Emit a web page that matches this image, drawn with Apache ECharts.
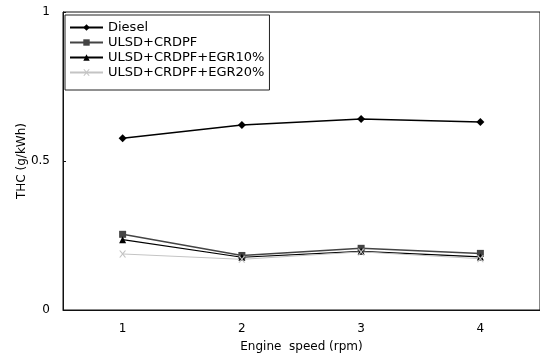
<!DOCTYPE html>
<html>
<head>
<meta charset="utf-8">
<script src="https://cdn.jsdelivr.net/npm/echarts@6/dist/echarts.min.js"></script>
<style>
  html, body { margin: 0; padding: 0; background: #fff; }
  #chart { width: 540px; height: 358px; }
</style>
</head>
<body>
<div id="chart"></div>
<script>
// 数据：发动机转速（档位）与 THC 排放
const categories = ['1', '2', '3', '4'];
const diesel = [0.576, 0.621, 0.641, 0.631];
const ulsdCrdpf = [0.254, 0.183, 0.207, 0.190];
const egr10 = [0.236, 0.177, 0.197, 0.178];
const egr20 = [0.188, 0.170, 0.195, 0.172];
const seriesNames = ['Diesel', 'ULSD+CRDPF', 'ULSD+CRDPF+EGR10%', 'ULSD+CRDPF+EGR20%'];

const chart = echarts.init(document.getElementById('chart'));
const font = 'DejaVu Sans, Liberation Sans, sans-serif';

function line(name, data, color, symbol, size, width) {
  return {
    name: name,
    type: 'line',
    data: data,
    symbol: symbol,
    symbolSize: size,
    lineStyle: { color: color, width: width },
    itemStyle: { color: color },
    animation: false
  };
}

chart.setOption({
  animation: false,
  textStyle: { fontFamily: font, color: '#000' },
  grid: {
    left: 63, right: -3, top: 12, bottom: 47,
    show: true, borderColor: '#111', borderWidth: 1
  },
  legend: {
    orient: 'vertical',
    left: 65, top: 15,
    data: seriesNames,
    itemWidth: 33, itemHeight: 8, itemGap: 2,
    padding: [6, 5, 11, 4],
    borderColor: '#222', borderWidth: 1,
    backgroundColor: '#fff',
    textStyle: { fontSize: 13, lineHeight: 13, color: '#000', fontFamily: font }
  },
  xAxis: {
    type: 'category',
    data: categories,
    boundaryGap: true,
    name: 'Engine  speed (rpm)',
    nameLocation: 'middle',
    nameGap: 31,
    nameMoveOverlap: false,
    nameTextStyle: { fontSize: 12, color: '#000' },
    axisLine: { lineStyle: { color: '#111', width: 1 } },
    axisTick: { inside: true, length: 3, lineStyle: { color: '#111' } },
    axisLabel: { fontSize: 12, color: '#000', margin: 13 },
    splitLine: { show: false }
  },
  yAxis: {
    type: 'value',
    min: 0, max: 1, interval: 0.5,
    name: 'THC (g/kWh)',
    nameLocation: 'middle',
    nameGap: 35,
    nameMoveOverlap: false,
    nameTextStyle: { fontSize: 12, color: '#000' },
    axisLine: { show: true, lineStyle: { color: '#111', width: 1 } },
    axisTick: { show: true, inside: true, length: 3, lineStyle: { color: '#111' } },
    axisLabel: { fontSize: 12, color: '#000', margin: 13 },
    splitLine: { show: false }
  },
  series: [
    line(seriesNames[0], diesel, '#000', 'diamond', 8, 1.5),
    line(seriesNames[1], ulsdCrdpf, '#444', 'rect', 7, 1.5),
    line(seriesNames[2], egr10, '#000', 'triangle', 7, 1.2),
    line(seriesNames[3], egr20, '#c4c4c4', 'path://M0,0L2,0L5,3L8,0L10,0L6,4L10,8L8,8L5,5L2,8L0,8L4,4Z', 7, 1)
  ]
});

window.addEventListener('resize', () => chart.resize());
</script>
</body>
</html>
